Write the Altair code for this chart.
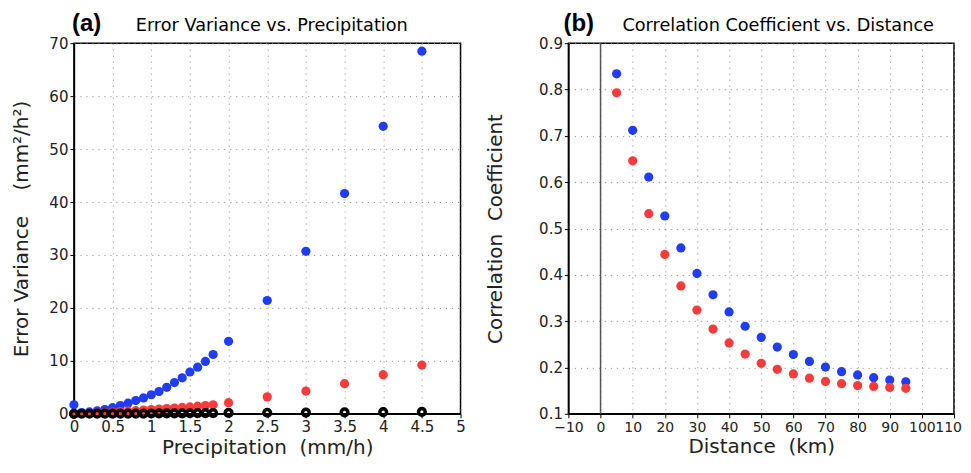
import altair as alt
import pandas as pd

# ---- Panel (a): Error variance vs precipitation ----
precip = [0.0, 0.1, 0.2, 0.3, 0.4, 0.5, 0.6, 0.7, 0.8, 0.9, 1.0, 1.1, 1.2, 1.3,
          1.4, 1.5, 1.6, 1.7, 1.8, 2.0, 2.5, 3.0, 3.5, 4.0, 4.5]
ev_blue = [1.7, 0.25, 0.35, 0.55, 0.8, 1.15, 1.55, 2.0, 2.5, 3.0, 3.6, 4.2, 5.0,
           5.9, 6.8, 7.9, 8.8, 9.9, 11.2, 13.7, 21.4, 30.7, 41.6, 54.3, 68.5]
ev_red = [0.0, 0.05, 0.1, 0.17, 0.25, 0.33, 0.42, 0.5, 0.6, 0.7, 0.8, 0.9, 1.0,
          1.1, 1.2, 1.3, 1.45, 1.55, 1.7, 2.1, 3.2, 4.3, 5.7, 7.4, 9.2]
ev_black = [0.0, 0.01, 0.01, 0.02, 0.02, 0.03, 0.03, 0.04, 0.05, 0.05, 0.06, 0.07,
            0.08, 0.09, 0.1, 0.11, 0.12, 0.13, 0.14, 0.16, 0.2, 0.24, 0.28, 0.32, 0.36]

# ---- Panel (b): Correlation coefficient vs distance ----
dist = [5, 10, 15, 20, 25, 30, 35, 40, 45, 50, 55, 60, 65, 70, 75, 80, 85, 90, 95]
cc_blue = [0.834, 0.712, 0.611, 0.527, 0.458, 0.403, 0.357, 0.320, 0.289, 0.265,
           0.244, 0.228, 0.213, 0.201, 0.191, 0.184, 0.178, 0.173, 0.169]
cc_red = [0.793, 0.646, 0.532, 0.444, 0.376, 0.324, 0.283, 0.253, 0.229, 0.209,
          0.196, 0.186, 0.177, 0.170, 0.165, 0.161, 0.159, 0.157, 0.155]

x_ticks_a = [0, 0.5, 1, 1.5, 2, 2.5, 3, 3.5, 4, 4.5, 5]
y_ticks_a = [0, 10, 20, 30, 40, 50, 60, 70]
x_ticks_b = [-10, 0, 10, 20, 30, 40, 50, 60, 70, 80, 90, 100, 110]
y_ticks_b = [0.1, 0.2, 0.3, 0.4, 0.5, 0.6, 0.7, 0.8, 0.9]

NB = "\u00a0"
BLUE = "#1f3cff"
RED = "#ff3a3a"
FONT = "DejaVu Sans"

W_A, W_B, H = 387, 386, 371

def axis(values, title, fmt, extent=None, tpad=3, lsize=15, lpad=2, **extra):
    kw = dict(values=values, title=title, format=fmt, grid=True,
              gridDash=[1, 5], gridColor="#8a8a8a", gridWidth=1,
              tickSize=4, tickColor="black", tickWidth=1,
              domainColor="black", domainWidth=1.5,
              labelFont=FONT, labelFontSize=lsize, labelColor="#222",
              labelPadding=lpad, labelOverlap=False, labelFlush=False,
              titleFont=FONT, titleFontSize=20, titleFontWeight="normal",
              titleColor="#222", titlePadding=tpad)
    if extent is not None:
        kw.update(minExtent=extent, maxExtent=extent)
    kw.update(extra)
    return alt.Axis(**kw)

df_a = pd.DataFrame({
    "p": precip * 3,
    "v": ev_blue + ev_red + ev_black,
    "s": ["blue"] * len(precip) + ["red"] * len(precip) + ["black"] * len(precip),
})

xa = alt.X("p:Q", scale=alt.Scale(domain=[0, 5], nice=False),
           axis=axis(x_ticks_a, f"Precipitation{NB}{NB}(mm/h)", "~g"))
ya = alt.Y("v:Q", scale=alt.Scale(domain=[0, 70], nice=False),
           axis=axis(y_ticks_a, f"Error{NB}Variance{NB}{NB}{NB}{NB}(mm²/h²)", "d",
                     extent=34, tpad=8))

pts_blue = alt.Chart(df_a).transform_filter(alt.datum.s == "blue").mark_circle(
    size=85, color=BLUE, opacity=1).encode(x=xa, y=ya)
pts_red = alt.Chart(df_a).transform_filter(alt.datum.s == "red").mark_circle(
    size=85, color=RED, opacity=1).encode(x=xa, y=ya)
pts_black = alt.Chart(df_a).transform_filter(alt.datum.s == "black").mark_point(
    size=45, color="black", filled=False, strokeWidth=3.5, opacity=1).encode(x=xa, y=ya)

lab_a = alt.Chart(pd.DataFrame({"t": ["(a)"]})).mark_text(
    font="Liberation Sans", fontSize=24, fontWeight="bold", align="left",
    baseline="alphabetic", color="black").encode(
    text="t:N", x=alt.value(-2), y=alt.value(-12))
tit_a = alt.Chart(pd.DataFrame({"t": ["Error Variance vs. Precipitation"]})).mark_text(
    font=FONT, fontSize=17.7, align="center",
    baseline="alphabetic", color="black").encode(
    text="t:N", x=alt.value(198), y=alt.value(-12))

left = alt.layer(pts_blue, pts_red, pts_black, lab_a, tit_a).properties(width=W_A, height=H)

df_b = pd.DataFrame({
    "d": dist * 2,
    "c": cc_blue + cc_red,
    "s": ["blue"] * len(dist) + ["red"] * len(dist),
})

last_b = "datum.value == 110"
xb_axis = axis(x_ticks_b, f"Distance{NB}{NB}(km)", "d", lsize=14, lpad=3, tpad=2,
               labelAlign={"condition": {"test": last_b, "value": "right"}, "value": "center"},
               labelOffset={"condition": {"test": last_b, "value": 7.5}, "value": 0})
xb = alt.X("d:Q", scale=alt.Scale(domain=[-10, 110], nice=False), axis=xb_axis)
yb = alt.Y("c:Q", scale=alt.Scale(domain=[0.1, 0.9], nice=False),
           axis=axis(y_ticks_b, f"Correlation{NB}{NB}Coefficient", ".1f",
                     extent=55, tpad=8))
xz = alt.X("z:Q", scale=alt.Scale(domain=[-10, 110], nice=False), axis=xb_axis)

zero_line = alt.Chart(pd.DataFrame({"z": [0]})).mark_rule(
    color="#555", strokeWidth=1.5).encode(x=xz)

pb_blue = alt.Chart(df_b).transform_filter(alt.datum.s == "blue").mark_circle(
    size=85, color=BLUE, opacity=1).encode(x=xb, y=yb)
pb_red = alt.Chart(df_b).transform_filter(alt.datum.s == "red").mark_circle(
    size=85, color=RED, opacity=1).encode(x=xb, y=yb)

lab_b = alt.Chart(pd.DataFrame({"t": ["(b)"]})).mark_text(
    font="Liberation Sans", fontSize=24, fontWeight="bold", align="left",
    baseline="alphabetic", color="black").encode(
    text="t:N", x=alt.value(-5), y=alt.value(-12))
tit_b = alt.Chart(pd.DataFrame({"t": ["Correlation Coefficient vs. Distance"]})).mark_text(
    font=FONT, fontSize=17.7, align="center",
    baseline="alphabetic", color="black").encode(
    text="t:N", x=alt.value(210), y=alt.value(-12))

right = alt.layer(pb_blue, zero_line, pb_red, lab_b, tit_b).properties(width=W_B, height=H)

chart = alt.hconcat(left, right, spacing=108, bounds="flush").properties(
    padding={"left": 3, "top": 3, "right": 0, "bottom": 0}
).configure_view(stroke="black", strokeWidth=1.5)

chart.save("out.html", embed_options={"renderer": "svg", "actions": False})
